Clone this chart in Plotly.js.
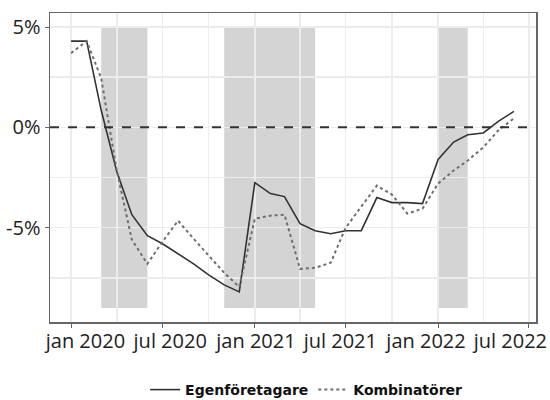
<!DOCTYPE html>
<html>
<head>
<meta charset="utf-8">
<script src="https://cdn.plot.ly/plotly-3.0.1.min.js"></script>
<style>html,body{margin:0;padding:0;background:#fff}#chart{width:550px;height:400px}</style>
</head>
<body>
<div id="chart"></div>
<script>
const months = ['2020-01-01','2020-02-01','2020-03-01','2020-04-01','2020-05-01','2020-06-01','2020-07-01','2020-08-01','2020-09-01','2020-10-01','2020-11-01','2020-12-01',
  '2021-01-01','2021-02-01','2021-03-01','2021-04-01','2021-05-01','2021-06-01','2021-07-01','2021-08-01','2021-09-01','2021-10-01','2021-11-01','2021-12-01',
  '2022-01-01','2022-02-01','2022-03-01','2022-04-01','2022-05-01','2022-06-01'];
const egenforetagare = [4.3,4.3,0.85,-2.2,-4.35,-5.4,-5.8,-6.3,-6.8,-7.35,-7.85,-8.2,
  -2.75,-3.3,-3.45,-4.8,-5.15,-5.3,-5.15,-5.15,-3.5,-3.75,-3.75,-3.8,
  -1.6,-0.73,-0.37,-0.28,0.3,0.8];
const kombinatorer = [3.7,4.3,2.45,-2.15,-5.6,-6.8,-5.7,-4.65,-5.55,-6.4,-7.25,-7.95,
  -4.55,-4.4,-4.35,-7.05,-7.0,-6.75,-5.0,-3.95,-2.9,-3.35,-4.3,-4.05,
  -2.8,-2.15,-1.65,-1.0,-0.15,0.45];
const seriesNames = ['Egenföretagare','Kombinatörer'];
const tickDates = ['2020-01-01','2020-07-01','2021-01-01','2021-07-01','2022-01-01','2022-07-01'];
const tickLabels = ['jan 2020','jul 2020','jan 2021','jul 2021','jan 2022','jul 2022'];
const yTicks = [-5,0,5];
const yTickLabels = ['-5%','0%','5%'];
const shadeStart = ['2020-03-01','2020-11-01','2022-01-01'];
const shadeEnd = ['2020-06-01','2021-05-01','2022-03-01'];
const shadeLow = -9, shadeHigh = 5;

const shapes = shadeStart.map((s,i)=>({type:'rect',xref:'x',yref:'y',x0:s,x1:shadeEnd[i],y0:shadeLow,y1:shadeHigh,
  fillcolor:'#d4d4d4',line:{width:0},layer:'below'}));
shapes.push({type:'line',xref:'paper',yref:'y',x0:0,x1:0.99,y0:0,y1:0,line:{color:'#333',width:2,dash:'dash'},layer:'above'});

const traces = [
  {x:months,y:egenforetagare,name:seriesNames[0],type:'scatter',mode:'lines',line:{color:'#333',width:1.6}},
  {x:months,y:kombinatorer,name:seriesNames[1],type:'scatter',mode:'lines',line:{color:'#6e6e6e',width:2,dash:'dot'}},
  {x:[],y:[],xaxis:'x2',yaxis:'y',type:'scatter',mode:'lines',showlegend:false,hoverinfo:'skip'}
];

const layout = {
  width:550,height:400,
  margin:{l:50,r:14,t:13,b:78,autoexpand:false},
  paper_bgcolor:'#fff',plot_bgcolor:'#fff',
  font:{family:'"Open Sans", "Noto Sans", sans-serif',color:'#222',size:20},
  showlegend:true,
  legend:{orientation:'h',x:0.527,xanchor:'center',yref:'container',y:0.025,yanchor:'middle',
    font:{family:'"DejaVu Sans", sans-serif',size:14,color:'#111',weight:'bold'},itemwidth:30,tracegroupgap:0},
  xaxis:{type:'date',range:['2019-11-20','2022-07-15'],tickmode:'array',tickvals:tickDates,ticktext:tickLabels,
    showticklabels:false,
    showgrid:true,gridcolor:'#ececec',gridwidth:1.5,
    minor:{dtick:'M3',tick0:'2020-01-01',showgrid:true,gridcolor:'#ececec',gridwidth:1.5,ticks:''},
    showline:true,mirror:true,linecolor:'#666',linewidth:1.5,ticks:'outside',ticklen:4,tickcolor:'#666',
    zeroline:false},
  xaxis2:{type:'date',overlaying:'x',anchor:'y',side:'bottom',range:['2019-10-17','2022-08-25'],
    tickmode:'array',tickvals:tickDates,ticktext:tickLabels,showgrid:false,showline:false,zeroline:false,
    ticks:'',ticklabelstandoff:5,ticklabeloverflow:'allow',tickfont:{size:20,color:'#222'}},
  yaxis:{range:[-9.7,5.7],tickmode:'array',tickvals:yTicks,ticktext:yTickLabels,
    showgrid:true,gridcolor:'#ececec',gridwidth:1.5,
    minor:{dtick:2.5,tick0:0,showgrid:true,gridcolor:'#ececec',gridwidth:1.5,ticks:''},
    showline:true,mirror:true,linecolor:'#666',linewidth:1.5,ticks:'outside',ticklen:4,tickcolor:'#666',
    zeroline:false,tickfont:{size:20}},
  shapes:shapes
};
Plotly.newPlot('chart',traces,layout,{displayModeBar:false,staticPlot:true});
</script>
</body>
</html>
